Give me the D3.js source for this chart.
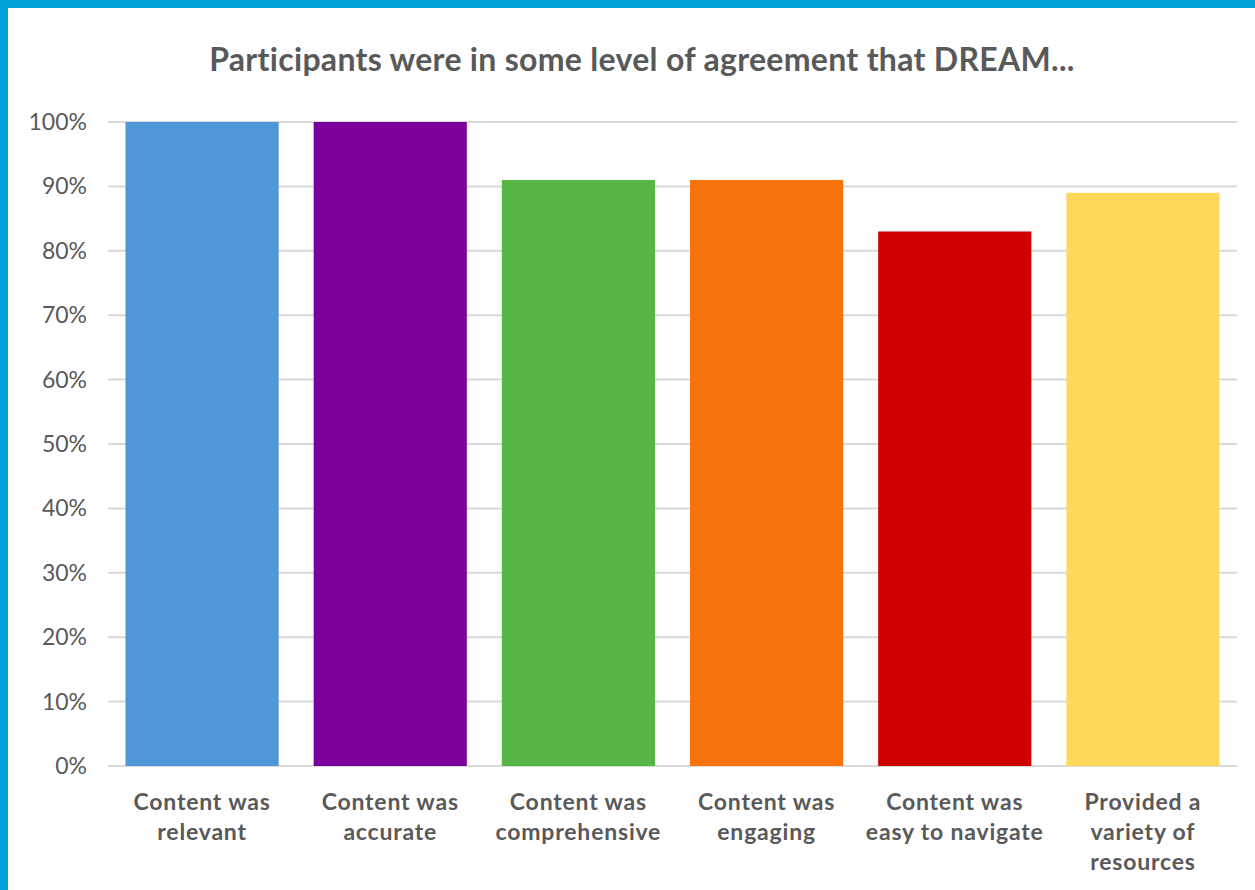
<!DOCTYPE html>
<html>
<head>
<meta charset="utf-8">
<script src="https://cdn.jsdelivr.net/npm/d3@7"></script>
<style>
  html, body { margin: 0; padding: 0; background: #fff; }
  svg { display: block; }
</style>
</head>
<body>
<svg id="chart"></svg>
<script>
  const categories = [
    ['Content was', 'relevant'],
    ['Content was', 'accurate'],
    ['Content was', 'comprehensive'],
    ['Content was', 'engaging'],
    ['Content was', 'easy to navigate'],
    ['Provided a', 'variety of', 'resources']
  ];
  const values = [100, 100, 91, 91, 83, 89];
  const colors = ['#4f97d6', '#7b009b', '#57b646', '#f9730b', '#cf0000', '#ffd95a'];
  const yTicks = [0, 10, 20, 30, 40, 50, 60, 70, 80, 90, 100];
  const title = 'Participants were in some level of agreement that DREAM...';

  const width = 1255;
  const height = 890;
  const margin = { top: 122, right: 18, bottom: 124, left: 108 };

  const svg = d3.select('#chart').attr('width', width).attr('height', height);

  // blue frame at top and left
  svg.append('rect').attr('x', 0).attr('y', 0).attr('width', width).attr('height', 8).attr('fill', '#00a0d8');
  svg.append('rect').attr('x', 0).attr('y', 0).attr('width', 8).attr('height', height).attr('fill', '#00a0d8');

  const x = d3
    .scaleBand()
    .domain(d3.range(values.length))
    .range([margin.left, width - margin.right])
    .paddingInner(0.186)
    .paddingOuter(0.093);

  const y = d3
    .scaleLinear()
    .domain([0, 100])
    .range([height - margin.bottom, margin.top]);

  const font = 'Lato, "Open Sans", sans-serif';

  svg
    .append('text')
    .attr('x', 642)
    .attr('y', 71)
    .attr('text-anchor', 'middle')
    .attr('font-family', font)
    .attr('font-weight', 700)
    .attr('font-size', 32)
    .attr('letter-spacing', 0.3)
    .attr('fill', '#595959')
    .text(title);

  // gridlines
  svg
    .append('g')
    .selectAll('line')
    .data(yTicks)
    .join('line')
    .attr('x1', margin.left)
    .attr('x2', width - margin.right)
    .attr('y1', (d) => y(d))
    .attr('y2', (d) => y(d))
    .attr('stroke', '#d9d9d9')
    .attr('stroke-width', 2);

  // y tick labels
  svg
    .append('g')
    .selectAll('text')
    .data(yTicks)
    .join('text')
    .attr('x', 87)
    .attr('y', (d) => y(d))
    .attr('dy', '0.35em')
    .attr('text-anchor', 'end')
    .attr('font-family', font)
    .attr('font-size', 23)
    .attr('fill', '#595959')
    .text((d) => `${d}%`);

  // bars
  svg
    .append('g')
    .selectAll('rect')
    .data(values)
    .join('rect')
    .attr('x', (d, i) => x(i))
    .attr('width', x.bandwidth())
    .attr('y', (d) => y(d))
    .attr('height', (d) => y(0) - y(d))
    .attr('fill', (d, i) => colors[i]);

  // category labels
  const labels = svg
    .append('g')
    .selectAll('text')
    .data(categories)
    .join('text')
    .attr('x', (d, i) => x(i) + x.bandwidth() / 2)
    .attr('y', 810)
    .attr('text-anchor', 'middle')
    .attr('font-family', font)
    .attr('font-weight', 700)
    .attr('font-size', 23)
    .attr('letter-spacing', 0.8)
    .attr('fill', '#595959');

  labels
    .selectAll('tspan')
    .data((d, i) => d.map((line) => ({ line, i })))
    .join('tspan')
    .attr('x', (d) => x(d.i) + x.bandwidth() / 2)
    .attr('dy', (d, j) => (j === 0 ? 0 : 30))
    .text((d) => d.line);
</script>
</body>
</html>
